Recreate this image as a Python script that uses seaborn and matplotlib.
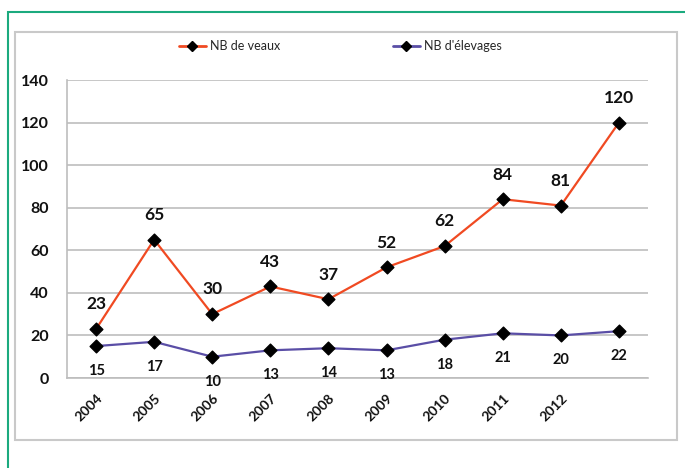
import matplotlib
matplotlib.use("Agg")
import matplotlib.pyplot as plt
import matplotlib.ticker as mticker
from matplotlib.patches import Rectangle
from matplotlib.lines import Line2D
import seaborn as sns
import pandas as pd

# ─── DATA ─────────────────────────────────────────────────────────────────────
YEAR_LABELS = ["2004", "2005", "2006", "2007", "2008", "2009", "2010", "2011", "2012", ""]
VEAUX       = [23, 65, 30, 43, 37, 52, 62, 84, 81, 120]
ELEVAGES    = [15, 17, 10, 13, 14, 13, 18, 21, 20, 22]

# ─── STYLE ────────────────────────────────────────────────────────────────────
sns.set_theme(style="white")
plt.rcParams["font.family"] = ["Lato", "DejaVu Sans"]

COLOR_VEAUX = "#F04A22"
COLOR_ELEV  = "#5A4EA6"
GRID_GRAY   = "#BDBDBD"
TEXT        = "#111111"

df = pd.DataFrame({
    "pos": list(range(len(VEAUX))) * 2,
    "value": VEAUX + ELEVAGES,
    "serie": ["NB de veaux"] * len(VEAUX) + ["NB d'élevages"] * len(ELEVAGES),
})

fig = plt.figure(figsize=(6.85, 4.68), dpi=100)
W, H = 685, 468

# outer green frame and inner grey chart frame
fig.patches.append(Rectangle((8 / W, -0.1), 1.0, 1 - 12 / H + 0.1, transform=fig.transFigure,
                             fill=False, edgecolor="#1BAA7E", linewidth=1.5))
fig.patches.append(Rectangle((15 / W, 1 - 440 / H), 662 / W, 408 / H, transform=fig.transFigure,
                             fill=False, edgecolor="#C9C9C9", linewidth=1.5))

ax = fig.add_axes([67 / W, 1 - 378 / H, (648 - 67) / W, (378 - 80) / H])

sns.lineplot(data=df, x="pos", y="value", hue="serie",
             palette={"NB de veaux": COLOR_VEAUX, "NB d'élevages": COLOR_ELEV},
             linewidth=1.6, legend=False, ax=ax)
for vals in (VEAUX, ELEVAGES):
    ax.scatter(range(len(vals)), vals, marker="D", s=42, color="black", zorder=5)

for i, v in enumerate(VEAUX):
    ax.annotate(str(v), (i, v), textcoords="offset points", xytext=(0, 12),
                ha="center", va="bottom", fontsize=12.5, fontweight="bold", color=TEXT)
for i, v in enumerate(ELEVAGES):
    ax.annotate(str(v), (i, v), textcoords="offset points", xytext=(0, -13),
                ha="center", va="top", fontsize=10.5, fontweight="bold", color=TEXT)

ax.set_ylim(0, 140)
ax.set_xlim(-0.5, len(VEAUX) - 0.5)
ax.yaxis.set_major_locator(mticker.MultipleLocator(20))
ax.grid(axis="y", color=GRID_GRAY, linewidth=1.2)
ax.set_axisbelow(True)

ax.set_xticks(range(len(YEAR_LABELS)))
ax.set_xticklabels(YEAR_LABELS, rotation=45, ha="right", rotation_mode="anchor",
                   fontsize=10, fontweight="bold", color=TEXT)
ax.set_xticks([i - 0.5 for i in range(len(VEAUX) + 1)], minor=True)
ax.tick_params(axis="x", which="major", length=0, pad=10)
ax.tick_params(axis="x", which="minor", length=5, color=GRID_GRAY, width=1.2, direction="out")
ax.tick_params(axis="y", length=5, color=GRID_GRAY, width=1.2, pad=8,
               labelsize=11.5, labelcolor=TEXT)
for lab in ax.get_yticklabels():
    lab.set_fontweight("bold")

for side in ("top", "right"):
    ax.spines[side].set_visible(False)
for side in ("left", "bottom"):
    ax.spines[side].set_color(GRID_GRAY)
    ax.spines[side].set_linewidth(1.2)
ax.set_xlabel("")
ax.set_ylabel("")

handles = [
    Line2D([], [], color=COLOR_VEAUX, marker="D", markerfacecolor="black",
           markeredgecolor="black", markersize=5, linewidth=2),
    Line2D([], [], color=COLOR_ELEV, marker="D", markerfacecolor="black",
           markeredgecolor="black", markersize=5, linewidth=2),
]
fig.legend(handles, ["NB de veaux", "NB d'élevages"], loc="center",
           bbox_to_anchor=(340 / W, 1 - 46 / H), ncol=2, frameon=False,
           fontsize=9, columnspacing=9, handlelength=2.2, handletextpad=0.3)

fig.savefig("out.png", dpi=100)
